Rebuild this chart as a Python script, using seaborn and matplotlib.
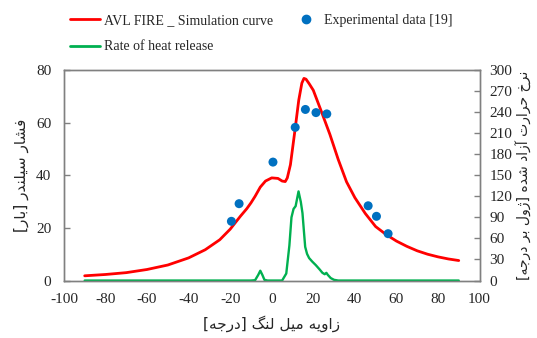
import numpy as np
import matplotlib
matplotlib.use('Agg')
import matplotlib.pyplot as plt
import seaborn as sns
from matplotlib.lines import Line2D

# crank angle [deg] vs cylinder pressure [bar] - AVL FIRE simulation
sim_x = [-90, -80, -70, -60, -50, -40, -32, -25, -20, -15, -12, -10, -8, -5.5, -3, 0, 3, 5,
         6.5, 7.5, 9, 11, 13, 14.5, 15.5, 16.5, 18, 20, 24, 28, 32, 36, 40, 45, 50, 55, 60,
         65, 70, 75, 80, 85, 90]
sim_y = [1.8, 2.3, 3.0, 4.2, 5.9, 8.6, 11.7, 15.5, 19.5, 24.5, 27.3, 29.5, 32.0, 35.5, 37.8,
         39.0, 38.8, 37.8, 37.6, 39.0, 44.0, 56.0, 68.5, 75.0, 76.8, 76.5, 74.8, 72.3, 64,
         55.5, 46, 37.5, 31.5, 25.5, 20.5, 17.5, 15, 13, 11.3, 10.0, 9.0, 8.2, 7.6]

# experimental data [19]
exp_x = [-19.4, -15.7, 0.6, 11.3, 16.2, 21.3, 26.5, 46.4, 50.4, 56.0]
exp_y = [22.5, 29.2, 45.0, 58.2, 65.0, 63.8, 63.3, 28.4, 24.4, 17.8]

# rate of heat release [J/deg]
hrr_x = [-90, -10, -8, -6.5, -5.5, -4.5, -3.5, -2, 5, 7, 8.5, 9.5, 10.5, 11.5, 12.9, 14,
         14.8, 15.5, 16.1, 17, 18, 19.5, 21.2, 23, 24.4, 25.5, 26.3, 27, 28.4, 30, 32, 90]
hrr_y = [0, 0, 0.5, 8, 14, 8, 1, 0, 0, 10, 50, 90, 102, 106, 127, 112, 96, 70, 48, 38, 32,
         27, 22, 16, 11, 9, 11, 8, 3.5, 1, 0, 0]

x_ticks = list(range(-100, 101, 20))
y_ticks = list(range(0, 81, 20))
y2_ticks = list(range(0, 301, 30))

label_x = 'زاویه میل لنگ [درجه]'
label_y = 'فشار سیلندر [بار]'
label_y2 = 'نرخ حرارت آزاد شده [ژول بر درجه]'

# arabic letter forms: isolated, final, initial, medial
FORMS = {
    'ا': ('\uFE8D', '\uFE8E', None, None),
    'آ': ('\uFE81', '\uFE82', None, None),
    'ب': ('\uFE8F', '\uFE90', '\uFE91', '\uFE92'),
    'ت': ('\uFE95', '\uFE96', '\uFE97', '\uFE98'),
    'ج': ('\uFE9D', '\uFE9E', '\uFE9F', '\uFEA0'),
    'ح': ('\uFEA1', '\uFEA2', '\uFEA3', '\uFEA4'),
    'خ': ('\uFEA5', '\uFEA6', '\uFEA7', '\uFEA8'),
    'د': ('\uFEA9', '\uFEAA', None, None),
    'ر': ('\uFEAD', '\uFEAE', None, None),
    'ز': ('\uFEAF', '\uFEB0', None, None),
    'ژ': ('\uFB8A', '\uFB8B', None, None),
    'س': ('\uFEB1', '\uFEB2', '\uFEB3', '\uFEB4'),
    'ش': ('\uFEB5', '\uFEB6', '\uFEB7', '\uFEB8'),
    'ف': ('\uFED1', '\uFED2', '\uFED3', '\uFED4'),
    'گ': ('\uFB92', '\uFB93', '\uFB94', '\uFB95'),
    'ل': ('\uFEDD', '\uFEDE', '\uFEDF', '\uFEE0'),
    'م': ('\uFEE1', '\uFEE2', '\uFEE3', '\uFEE4'),
    'ن': ('\uFEE5', '\uFEE6', '\uFEE7', '\uFEE8'),
    'ه': ('\uFEE9', '\uFEEA', '\uFEEB', '\uFEEC'),
    'و': ('\uFEED', '\uFEEE', None, None),
    'ی': ('\uFBFC', '\uFBFD', '\uFBFE', '\uFBFF'),
}


def farsi(s):
    # shape letters, then reverse to visual order (matplotlib has no bidi)
    out = []
    for i, c in enumerate(s):
        if c not in FORMS:
            out.append(c)
            continue
        prev = s[i - 1] if i > 0 else ''
        nxt = s[i + 1] if i + 1 < len(s) else ''
        j_prev = prev in FORMS and FORMS[prev][2] is not None
        j_next = FORMS[c][2] is not None and nxt in FORMS
        iso, fin, ini, med = FORMS[c]
        if j_prev and j_next:
            out.append(med)
        elif j_prev:
            out.append(fin)
        elif j_next:
            out.append(ini)
        else:
            out.append(iso)
    vis = ''.join(out)[::-1]
    return vis.translate(str.maketrans('[]', '[]'[::-1]))


sns.set_style('white')
plt.rcParams['font.family'] = ['Liberation Serif', 'DejaVu Sans']
plt.rcParams['axes.unicode_minus'] = False

fig = plt.figure(figsize=(5.37, 3.38), dpi=100)
ax = fig.add_axes([0.119, 0.17, 0.774, 0.623])
ax2 = ax.twinx()

sns.lineplot(x=sim_x, y=sim_y, ax=ax, color='#ff0000', linewidth=2.0, sort=False)
sns.scatterplot(x=exp_x, y=exp_y, ax=ax, color='#0070c0', s=42, edgecolor='none', zorder=5)
sns.lineplot(x=hrr_x, y=hrr_y, ax=ax2, color='#00b050', linewidth=1.7, sort=False)

ax.set_xlim(-100, 100)
ax.set_ylim(0, 80)
ax2.set_ylim(0, 300)
ax.set_xticks(x_ticks)
ax.set_yticks(y_ticks)
ax2.set_yticks(y2_ticks)

for a in (ax, ax2):
    for sp in a.spines.values():
        sp.set_color('#808080')
        sp.set_linewidth(1.0)
    a.tick_params(direction='in', length=4, width=1, color='#808080', labelsize=11)
ax.tick_params(axis='x', pad=9)
ax.tick_params(axis='y', pad=9)
ax2.tick_params(axis='y', pad=7)

ax.set_xlabel(farsi(label_x), family='DejaVu Sans', fontsize=11, labelpad=7)
ax.set_ylabel(farsi(label_y), family='DejaVu Sans', fontsize=11, labelpad=5)
ax2.set_ylabel(farsi(label_y2), family='DejaVu Sans', fontsize=10, rotation=90, labelpad=3)

handles = [
    Line2D([], [], color='#ff0000', linewidth=2.0),
    Line2D([], [], color='#00b050', linewidth=2.0),
    Line2D([], [], color='#0070c0', marker='o', linestyle='none', markersize=6),
]
labels = ['AVL FIRE _ Simulation curve', 'Rate of heat release', 'Experimental data [19]']
fig.legend(handles, labels, loc='upper left', bbox_to_anchor=(0.108, 0.995), ncol=2,
           frameon=False, fontsize=10, handlelength=2.1, handletextpad=0.3,
           labelspacing=0.95, columnspacing=1.3)

fig.savefig('out.png', dpi=100)
